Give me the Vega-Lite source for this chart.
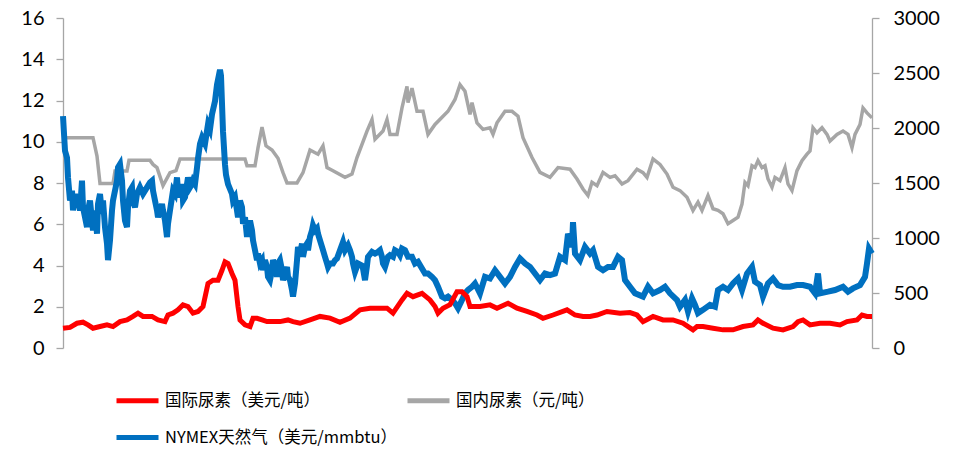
{
  "$schema": "https://vega.github.io/schema/vega-lite/v6.json",
  "autosize": "none",
  "width": 809,
  "height": 330,
  "padding": {"left": 63, "top": 18, "right": 94, "bottom": 105},
  "background": "#ffffff",
  "config": {
    "view": {"stroke": null},
    "axis": {
      "grid": false,
      "domainColor": "#a6a6a6",
      "domainWidth": 1.3,
      "tickColor": "#a6a6a6",
      "tickWidth": 1.3,
      "tickSize": 7,
      "labelFont": "Lato",
      "labelFontSize": 20,
      "labelColor": "#000000",
      "title": null
    },
    "legend": {
      "labelFont": "Noto Sans CJK SC",
      "labelFontSize": 16.5,
      "labelColor": "#000000",
      "symbolType": "stroke",
      "symbolStrokeWidth": 5,
      "symbolSize": 1764,
      "labelOffset": 4,
      "labelLimit": 400
    }
  },
  "datasets": {
    "domestic": [
      {"t": 0, "price": 1912}, {"t": 30, "price": 1912}, {"t": 34, "price": 1745}, {"t": 37, "price": 1496},
      {"t": 50, "price": 1496}, {"t": 52, "price": 1610}, {"t": 64, "price": 1610}, {"t": 66, "price": 1706},
      {"t": 87, "price": 1706}, {"t": 90, "price": 1669}, {"t": 94, "price": 1640}, {"t": 100, "price": 1476},
      {"t": 107, "price": 1594}, {"t": 113, "price": 1612}, {"t": 117, "price": 1718}, {"t": 182, "price": 1718},
      {"t": 184, "price": 1656}, {"t": 192, "price": 1656}, {"t": 195, "price": 1819}, {"t": 199, "price": 2008},
      {"t": 203, "price": 1838}, {"t": 209, "price": 1800}, {"t": 215, "price": 1725}, {"t": 220, "price": 1594},
      {"t": 224, "price": 1500}, {"t": 234, "price": 1500}, {"t": 240, "price": 1594}, {"t": 247, "price": 1800},
      {"t": 255, "price": 1762}, {"t": 260, "price": 1838}, {"t": 264, "price": 1640}, {"t": 270, "price": 1612},
      {"t": 282, "price": 1551}, {"t": 289, "price": 1582}, {"t": 294, "price": 1731}, {"t": 304, "price": 1972},
      {"t": 309, "price": 2077}, {"t": 312, "price": 1897}, {"t": 320, "price": 1972}, {"t": 324, "price": 2077},
      {"t": 327, "price": 1942}, {"t": 334, "price": 1942}, {"t": 339, "price": 2182}, {"t": 344, "price": 2379},
      {"t": 345, "price": 2231}, {"t": 349, "price": 2362}, {"t": 354, "price": 2152}, {"t": 360, "price": 2152},
      {"t": 365, "price": 1942}, {"t": 372, "price": 2032}, {"t": 385, "price": 2152}, {"t": 392, "price": 2259},
      {"t": 397, "price": 2394}, {"t": 402, "price": 2334}, {"t": 407, "price": 2124}, {"t": 409, "price": 2231},
      {"t": 414, "price": 2047}, {"t": 420, "price": 1987}, {"t": 427, "price": 2002}, {"t": 430, "price": 1942},
      {"t": 434, "price": 2047}, {"t": 442, "price": 2152}, {"t": 449, "price": 2152}, {"t": 455, "price": 2107},
      {"t": 460, "price": 1912}, {"t": 469, "price": 1731}, {"t": 477, "price": 1596}, {"t": 487, "price": 1551},
      {"t": 495, "price": 1640}, {"t": 507, "price": 1625}, {"t": 514, "price": 1536}, {"t": 520, "price": 1446},
      {"t": 525, "price": 1386}, {"t": 529, "price": 1506}, {"t": 534, "price": 1476}, {"t": 540, "price": 1596},
      {"t": 547, "price": 1551}, {"t": 552, "price": 1566}, {"t": 559, "price": 1491}, {"t": 565, "price": 1521},
      {"t": 574, "price": 1625}, {"t": 580, "price": 1594}, {"t": 584, "price": 1551}, {"t": 590, "price": 1718},
      {"t": 597, "price": 1669}, {"t": 604, "price": 1581}, {"t": 610, "price": 1461}, {"t": 617, "price": 1431},
      {"t": 624, "price": 1371}, {"t": 630, "price": 1251}, {"t": 635, "price": 1326}, {"t": 639, "price": 1251},
      {"t": 645, "price": 1386}, {"t": 650, "price": 1266}, {"t": 655, "price": 1251}, {"t": 660, "price": 1221},
      {"t": 665, "price": 1129}, {"t": 670, "price": 1159}, {"t": 675, "price": 1189}, {"t": 679, "price": 1309},
      {"t": 682, "price": 1506}, {"t": 685, "price": 1476}, {"t": 689, "price": 1656}, {"t": 692, "price": 1640},
      {"t": 695, "price": 1703}, {"t": 699, "price": 1640}, {"t": 702, "price": 1656}, {"t": 705, "price": 1536},
      {"t": 709, "price": 1461}, {"t": 712, "price": 1551}, {"t": 717, "price": 1521}, {"t": 722, "price": 1640},
      {"t": 725, "price": 1491}, {"t": 729, "price": 1431}, {"t": 734, "price": 1612}, {"t": 739, "price": 1703},
      {"t": 744, "price": 1762}, {"t": 747, "price": 1792}, {"t": 750, "price": 2002}, {"t": 754, "price": 1956},
      {"t": 759, "price": 2002}, {"t": 764, "price": 1942}, {"t": 767, "price": 1882}, {"t": 774, "price": 1942},
      {"t": 780, "price": 1972}, {"t": 785, "price": 1942}, {"t": 789, "price": 1822}, {"t": 792, "price": 1942},
      {"t": 797, "price": 2032}, {"t": 800, "price": 2182}, {"t": 804, "price": 2137}, {"t": 809, "price": 2092}
    ],
    "gas": [
      {"t": 0, "v": 11.24}, {"t": 2, "v": 9.56}, {"t": 4, "v": 9.23}, {"t": 5, "v": 8.27}, {"t": 7, "v": 7.15},
      {"t": 9, "v": 7.63}, {"t": 10, "v": 6.67}, {"t": 12, "v": 7.47}, {"t": 14, "v": 6.82}, {"t": 15, "v": 7.15},
      {"t": 17, "v": 6.67}, {"t": 19, "v": 8.11}, {"t": 20, "v": 6.82}, {"t": 22, "v": 6.34}, {"t": 24, "v": 5.86},
      {"t": 25, "v": 6.67}, {"t": 27, "v": 7.15}, {"t": 29, "v": 6.18}, {"t": 30, "v": 5.7}, {"t": 32, "v": 6.67},
      {"t": 34, "v": 5.54}, {"t": 35, "v": 6.98}, {"t": 37, "v": 7.47}, {"t": 39, "v": 6.5}, {"t": 40, "v": 7.15},
      {"t": 42, "v": 5.86}, {"t": 44, "v": 5.06}, {"t": 45, "v": 4.26}, {"t": 47, "v": 5.22}, {"t": 49, "v": 6.67},
      {"t": 50, "v": 7.15}, {"t": 52, "v": 7.63}, {"t": 54, "v": 8.11}, {"t": 55, "v": 8.75}, {"t": 57, "v": 8.91},
      {"t": 59, "v": 8.11}, {"t": 60, "v": 7.15}, {"t": 62, "v": 6.18}, {"t": 64, "v": 5.86}, {"t": 65, "v": 6.82},
      {"t": 67, "v": 7.63}, {"t": 69, "v": 7.79}, {"t": 70, "v": 7.15}, {"t": 72, "v": 6.82}, {"t": 74, "v": 7.47},
      {"t": 77, "v": 7.79}, {"t": 80, "v": 7.47}, {"t": 84, "v": 7.79}, {"t": 87, "v": 8.03}, {"t": 89, "v": 8.11},
      {"t": 90, "v": 7.63}, {"t": 92, "v": 7.15}, {"t": 94, "v": 6.67}, {"t": 95, "v": 6.34}, {"t": 97, "v": 6.67},
      {"t": 99, "v": 6.98}, {"t": 100, "v": 6.67}, {"t": 102, "v": 6.18}, {"t": 104, "v": 5.38}, {"t": 105, "v": 6.02},
      {"t": 107, "v": 6.67}, {"t": 109, "v": 7.31}, {"t": 110, "v": 7.63}, {"t": 112, "v": 7.47}, {"t": 114, "v": 8.27},
      {"t": 115, "v": 7.63}, {"t": 117, "v": 7.31}, {"t": 119, "v": 7.95}, {"t": 120, "v": 7.15}, {"t": 122, "v": 7.31},
      {"t": 124, "v": 7.95}, {"t": 125, "v": 8.27}, {"t": 127, "v": 7.79}, {"t": 129, "v": 7.95}, {"t": 130, "v": 8.11},
      {"t": 132, "v": 7.95}, {"t": 134, "v": 8.75}, {"t": 135, "v": 9.2}, {"t": 137, "v": 9.9}, {"t": 139, "v": 10.2},
      {"t": 142, "v": 9.9}, {"t": 145, "v": 10.84}, {"t": 147, "v": 10.6}, {"t": 149, "v": 11.33}, {"t": 152, "v": 11.97},
      {"t": 154, "v": 12.77}, {"t": 157, "v": 13.49}, {"t": 158, "v": 13.2}, {"t": 160, "v": 10.5}, {"t": 162, "v": 8.9},
      {"t": 163, "v": 8.4}, {"t": 165, "v": 7.95}, {"t": 169, "v": 7.47}, {"t": 170, "v": 7.15}, {"t": 172, "v": 7.31},
      {"t": 174, "v": 6.67}, {"t": 175, "v": 6.34}, {"t": 177, "v": 7.15}, {"t": 179, "v": 6.82}, {"t": 180, "v": 6.02},
      {"t": 182, "v": 6.34}, {"t": 184, "v": 5.38}, {"t": 185, "v": 5.86}, {"t": 187, "v": 6.18}, {"t": 189, "v": 5.7},
      {"t": 190, "v": 5.22}, {"t": 192, "v": 4.74}, {"t": 194, "v": 4.26}, {"t": 195, "v": 4.58}, {"t": 197, "v": 4.1},
      {"t": 199, "v": 4.26}, {"t": 200, "v": 3.77}, {"t": 202, "v": 4.26}, {"t": 204, "v": 3.93}, {"t": 205, "v": 3.45},
      {"t": 207, "v": 3.29}, {"t": 209, "v": 3.77}, {"t": 210, "v": 4.26}, {"t": 212, "v": 4.0}, {"t": 214, "v": 3.45},
      {"t": 215, "v": 4.1}, {"t": 217, "v": 4.26}, {"t": 219, "v": 3.77}, {"t": 220, "v": 3.29}, {"t": 222, "v": 3.6},
      {"t": 224, "v": 3.93}, {"t": 225, "v": 3.45}, {"t": 227, "v": 3.29}, {"t": 229, "v": 2.81}, {"t": 230, "v": 2.49},
      {"t": 232, "v": 3.13}, {"t": 234, "v": 4.26}, {"t": 235, "v": 4.9}, {"t": 237, "v": 4.58}, {"t": 239, "v": 5.06},
      {"t": 240, "v": 4.42}, {"t": 242, "v": 4.9}, {"t": 244, "v": 5.06}, {"t": 245, "v": 4.74}, {"t": 247, "v": 5.38},
      {"t": 249, "v": 5.7}, {"t": 250, "v": 5.94}, {"t": 252, "v": 5.7}, {"t": 254, "v": 5.8}, {"t": 255, "v": 5.54},
      {"t": 257, "v": 5.22}, {"t": 259, "v": 4.9}, {"t": 260, "v": 4.74}, {"t": 262, "v": 4.42}, {"t": 264, "v": 4.1},
      {"t": 265, "v": 3.93}, {"t": 267, "v": 4.1}, {"t": 270, "v": 4.1}, {"t": 272, "v": 4.26}, {"t": 274, "v": 4.34},
      {"t": 277, "v": 4.74}, {"t": 280, "v": 5.14}, {"t": 282, "v": 4.74}, {"t": 285, "v": 4.98}, {"t": 287, "v": 4.74},
      {"t": 289, "v": 4.42}, {"t": 290, "v": 4.1}, {"t": 292, "v": 3.69}, {"t": 295, "v": 4.1}, {"t": 299, "v": 4.0},
      {"t": 300, "v": 3.85}, {"t": 302, "v": 3.29}, {"t": 304, "v": 4.0}, {"t": 305, "v": 4.42}, {"t": 309, "v": 4.66},
      {"t": 312, "v": 4.58}, {"t": 315, "v": 4.66}, {"t": 317, "v": 4.74}, {"t": 319, "v": 4.42}, {"t": 320, "v": 4.1},
      {"t": 322, "v": 3.93}, {"t": 325, "v": 4.42}, {"t": 327, "v": 4.5}, {"t": 330, "v": 4.42}, {"t": 332, "v": 4.74},
      {"t": 335, "v": 4.66}, {"t": 337, "v": 4.5}, {"t": 339, "v": 4.82}, {"t": 342, "v": 4.74}, {"t": 345, "v": 4.42},
      {"t": 349, "v": 4.42}, {"t": 352, "v": 4.1}, {"t": 355, "v": 4.18}, {"t": 359, "v": 3.85}, {"t": 362, "v": 3.61},
      {"t": 365, "v": 3.61}, {"t": 369, "v": 3.45}, {"t": 372, "v": 3.29}, {"t": 375, "v": 2.97}, {"t": 379, "v": 2.49},
      {"t": 382, "v": 2.41}, {"t": 385, "v": 2.49}, {"t": 389, "v": 2.33}, {"t": 392, "v": 2.17}, {"t": 395, "v": 1.93},
      {"t": 399, "v": 2.33}, {"t": 402, "v": 2.65}, {"t": 405, "v": 2.81}, {"t": 409, "v": 2.97}, {"t": 412, "v": 3.13},
      {"t": 417, "v": 2.65}, {"t": 422, "v": 3.45}, {"t": 427, "v": 3.37}, {"t": 432, "v": 3.77}, {"t": 437, "v": 3.45},
      {"t": 442, "v": 3.13}, {"t": 447, "v": 3.45}, {"t": 452, "v": 3.93}, {"t": 457, "v": 4.34}, {"t": 462, "v": 4.1},
      {"t": 467, "v": 3.93}, {"t": 472, "v": 3.61}, {"t": 477, "v": 3.29}, {"t": 482, "v": 3.61}, {"t": 487, "v": 3.53},
      {"t": 492, "v": 3.61}, {"t": 497, "v": 4.42}, {"t": 502, "v": 4.26}, {"t": 505, "v": 5.54}, {"t": 509, "v": 4.9},
      {"t": 510, "v": 6.1}, {"t": 512, "v": 4.58}, {"t": 517, "v": 4.26}, {"t": 522, "v": 4.9}, {"t": 527, "v": 4.58},
      {"t": 530, "v": 4.74}, {"t": 535, "v": 3.93}, {"t": 540, "v": 3.77}, {"t": 545, "v": 3.93}, {"t": 550, "v": 3.93},
      {"t": 555, "v": 4.42}, {"t": 559, "v": 4.26}, {"t": 562, "v": 3.29}, {"t": 567, "v": 2.97}, {"t": 572, "v": 2.65},
      {"t": 580, "v": 2.49}, {"t": 585, "v": 2.97}, {"t": 590, "v": 2.65}, {"t": 597, "v": 2.81}, {"t": 602, "v": 2.97},
      {"t": 607, "v": 2.65}, {"t": 614, "v": 2.33}, {"t": 617, "v": 2.0}, {"t": 622, "v": 2.33}, {"t": 625, "v": 1.77},
      {"t": 629, "v": 2.41}, {"t": 632, "v": 2.09}, {"t": 635, "v": 1.69}, {"t": 640, "v": 1.85}, {"t": 647, "v": 2.09},
      {"t": 652, "v": 2.0}, {"t": 655, "v": 2.81}, {"t": 660, "v": 2.97}, {"t": 665, "v": 2.81}, {"t": 670, "v": 3.13},
      {"t": 675, "v": 3.37}, {"t": 679, "v": 2.81}, {"t": 684, "v": 3.61}, {"t": 689, "v": 3.93}, {"t": 692, "v": 3.21},
      {"t": 697, "v": 3.05}, {"t": 700, "v": 2.49}, {"t": 705, "v": 3.13}, {"t": 710, "v": 3.37}, {"t": 715, "v": 3.05},
      {"t": 720, "v": 2.97}, {"t": 727, "v": 2.97}, {"t": 734, "v": 3.05}, {"t": 740, "v": 3.05}, {"t": 747, "v": 2.97},
      {"t": 752, "v": 2.65}, {"t": 755, "v": 3.61}, {"t": 757, "v": 2.65}, {"t": 765, "v": 2.73}, {"t": 772, "v": 2.81},
      {"t": 780, "v": 2.97}, {"t": 785, "v": 2.73}, {"t": 790, "v": 2.89}, {"t": 797, "v": 3.05}, {"t": 802, "v": 3.45},
      {"t": 804, "v": 4.1}, {"t": 806, "v": 4.82}, {"t": 809, "v": 4.58}
    ],
    "intl": [
      {"t": 0, "v": 0.96}, {"t": 7, "v": 1.0}, {"t": 14, "v": 1.2}, {"t": 20, "v": 1.25}, {"t": 25, "v": 1.12},
      {"t": 30, "v": 0.96}, {"t": 37, "v": 1.04}, {"t": 44, "v": 1.12}, {"t": 50, "v": 1.04}, {"t": 57, "v": 1.28},
      {"t": 64, "v": 1.36}, {"t": 70, "v": 1.53}, {"t": 75, "v": 1.69}, {"t": 80, "v": 1.53}, {"t": 89, "v": 1.53},
      {"t": 95, "v": 1.36}, {"t": 102, "v": 1.28}, {"t": 105, "v": 1.6}, {"t": 110, "v": 1.69}, {"t": 115, "v": 1.85},
      {"t": 120, "v": 2.09}, {"t": 125, "v": 2.01}, {"t": 130, "v": 1.69}, {"t": 135, "v": 1.77}, {"t": 140, "v": 2.01},
      {"t": 145, "v": 3.13}, {"t": 150, "v": 3.29}, {"t": 155, "v": 3.29}, {"t": 159, "v": 3.77}, {"t": 162, "v": 4.18},
      {"t": 165, "v": 4.1}, {"t": 169, "v": 3.61}, {"t": 172, "v": 3.29}, {"t": 175, "v": 2.01}, {"t": 177, "v": 1.36},
      {"t": 182, "v": 1.12}, {"t": 187, "v": 1.04}, {"t": 190, "v": 1.44}, {"t": 194, "v": 1.44}, {"t": 199, "v": 1.36},
      {"t": 204, "v": 1.28}, {"t": 210, "v": 1.28}, {"t": 217, "v": 1.28}, {"t": 225, "v": 1.36}, {"t": 230, "v": 1.28},
      {"t": 237, "v": 1.2}, {"t": 247, "v": 1.36}, {"t": 257, "v": 1.53}, {"t": 267, "v": 1.45}, {"t": 277, "v": 1.25},
      {"t": 287, "v": 1.45}, {"t": 297, "v": 1.85}, {"t": 307, "v": 1.93}, {"t": 324, "v": 1.93}, {"t": 330, "v": 1.69},
      {"t": 339, "v": 2.33}, {"t": 344, "v": 2.65}, {"t": 350, "v": 2.49}, {"t": 359, "v": 2.65}, {"t": 367, "v": 2.33},
      {"t": 372, "v": 2.01}, {"t": 375, "v": 1.69}, {"t": 380, "v": 1.93}, {"t": 387, "v": 2.1}, {"t": 394, "v": 2.73},
      {"t": 399, "v": 2.73}, {"t": 404, "v": 2.49}, {"t": 407, "v": 2.01}, {"t": 417, "v": 2.01}, {"t": 427, "v": 2.09},
      {"t": 434, "v": 1.93}, {"t": 445, "v": 2.17}, {"t": 454, "v": 1.93}, {"t": 464, "v": 1.77}, {"t": 474, "v": 1.6},
      {"t": 480, "v": 1.44}, {"t": 490, "v": 1.6}, {"t": 504, "v": 1.85}, {"t": 512, "v": 1.6}, {"t": 520, "v": 1.53},
      {"t": 527, "v": 1.53}, {"t": 534, "v": 1.6}, {"t": 544, "v": 1.77}, {"t": 557, "v": 1.69}, {"t": 567, "v": 1.72},
      {"t": 574, "v": 1.6}, {"t": 580, "v": 1.28}, {"t": 590, "v": 1.53}, {"t": 600, "v": 1.36}, {"t": 610, "v": 1.36},
      {"t": 620, "v": 1.2}, {"t": 630, "v": 0.88}, {"t": 634, "v": 1.04}, {"t": 640, "v": 1.04}, {"t": 650, "v": 0.96},
      {"t": 660, "v": 0.88}, {"t": 670, "v": 0.88}, {"t": 680, "v": 1.04}, {"t": 690, "v": 1.12}, {"t": 695, "v": 1.36},
      {"t": 700, "v": 1.2}, {"t": 710, "v": 0.96}, {"t": 720, "v": 0.88}, {"t": 730, "v": 1.04}, {"t": 735, "v": 1.28},
      {"t": 740, "v": 1.36}, {"t": 747, "v": 1.12}, {"t": 757, "v": 1.2}, {"t": 767, "v": 1.2}, {"t": 777, "v": 1.12},
      {"t": 784, "v": 1.28}, {"t": 794, "v": 1.36}, {"t": 799, "v": 1.6}, {"t": 804, "v": 1.53}, {"t": 809, "v": 1.53}
    ]
  },
  "encoding": {
    "x": {"field": "t", "type": "quantitative", "scale": {"domain": [0, 809], "nice": false, "zero": false}, "axis": null}
  },
  "layer": [
    {
      "data": {"name": "domestic"},
      "mark": {"type": "line", "strokeWidth": 3.5, "interpolate": "linear"},
      "encoding": {
        "y": {"field": "price", "type": "quantitative", "scale": {"domain": [0, 3000], "nice": false},
              "axis": {"orient": "right", "values": [0, 500, 1000, 1500, 2000, 2500, 3000], "format": "d", "labelPadding": 14}},
        "color": {"datum": "国内尿素（元/吨）", "type": "nominal"}
      }
    },
    {
      "data": {"name": "gas"},
      "mark": {"type": "line", "strokeWidth": 6, "interpolate": "linear"},
      "encoding": {
        "y": {"field": "v", "type": "quantitative", "scale": {"domain": [0, 16], "nice": false},
              "axis": {"orient": "left", "values": [0, 2, 4, 6, 8, 10, 12, 14, 16], "labelPadding": 12}},
        "color": {"datum": "NYMEX天然气（美元/mmbtu）", "type": "nominal"}
      }
    },
    {
      "data": {"name": "intl"},
      "mark": {"type": "line", "strokeWidth": 5, "interpolate": "linear"},
      "encoding": {
        "y": {"field": "v", "type": "quantitative", "scale": {"domain": [0, 16], "nice": false}, "axis": null},
        "color": {
          "datum": "国际尿素（美元/吨）",
          "type": "nominal",
          "scale": {
            "domain": ["国际尿素（美元/吨）", "国内尿素（元/吨）", "NYMEX天然气（美元/mmbtu）"],
            "range": ["#ff0000", "#a6a6a6", "#0070c0"]
          },
          "legend": {
            "orient": "none",
            "legendX": 51,
            "legendY": 359,
            "columns": 2,
            "columnPadding": 0,
            "rowPadding": 3,
            "title": null,
            "values": ["国际尿素（美元/吨）", "NYMEX天然气（美元/mmbtu）", "国内尿素（元/吨）"]
          }
        }
      }
    }
  ],
  "resolve": {"scale": {"y": "independent"}}
}
